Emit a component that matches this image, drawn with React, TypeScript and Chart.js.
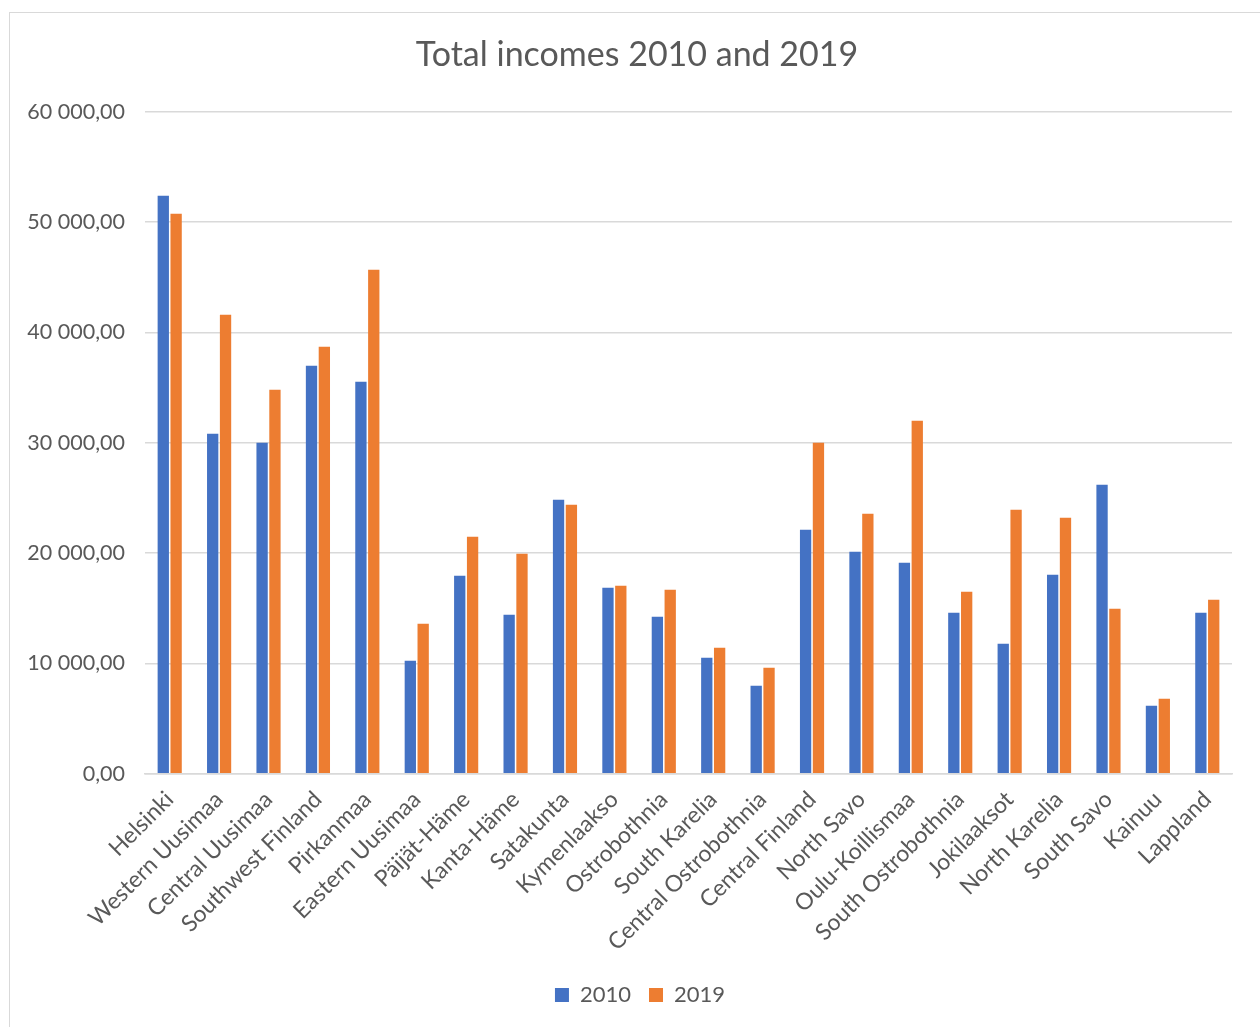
import React, { useEffect, useRef } from "react";
import { Chart, registerables } from "chart.js";

Chart.register(...registerables);

const regions = [
  "Helsinki", "Western Uusimaa", "Central Uusimaa", "Southwest Finland", "Pirkanmaa",
  "Eastern Uusimaa", "Päijät-Häme", "Kanta-Häme", "Satakunta", "Kymenlaakso",
  "Ostrobothnia", "South Karelia", "Central Ostrobothnia", "Central Finland", "North Savo",
  "Oulu-Koillismaa", "South Ostrobothnia", "Jokilaaksot", "North Karelia", "South Savo",
  "Kainuu", "Lappland",
];

const incomes2010 = [
  52390, 30820, 30000, 36980, 35530,
  10250, 17950, 14410, 24830, 16860,
  14230, 10510, 7980, 22120, 20120,
  19120, 14590, 11780, 18040, 26190,
  6160, 14590,
];

const incomes2019 = [
  50760, 41600, 34800, 38700, 45680,
  13600, 21480, 19940, 24380, 17040,
  16680, 11420, 9610, 30000, 23570,
  32000, 16500, 23930, 23200, 14950,
  6800, 15770,
];

const seriesNames = ["2010", "2019"];
const seriesColors = ["#4472C4", "#ED7D31"];
const chartTitle = "Total incomes 2010 and 2019";

const FONT = "Lato, 'Open Sans', sans-serif";
const TEXT = "#595959";
const GRID = "#d9d9d9";

function formatValue(v: number): string {
  const fixed = Math.abs(v).toFixed(2);
  const [intPart, dec] = fixed.split(".");
  const grouped = intPart.replace(/\B(?=(\d{3})+(?!\d))/g, " ");
  return (v < 0 ? "-" : "") + grouped + "," + dec;
}

const shiftBlocks = {
  id: "shiftBlocks",
  afterLayout(chart: any) {
    if (chart.titleBlock) chart.titleBlock.left += 16;
    if (chart.legend) chart.legend.left += 22;
  },
};

export default function App() {
  const canvasRef = useRef<HTMLCanvasElement | null>(null);

  useEffect(() => {
    if (!canvasRef.current) return;
    const chart = new Chart(canvasRef.current, {
      type: "bar",
      data: {
        labels: regions,
        datasets: [
          {
            label: seriesNames[0],
            data: incomes2010,
            backgroundColor: seriesColors[0],
            categoryPercentage: 0.52,
            barPercentage: 0.88,
          },
          {
            label: seriesNames[1],
            data: incomes2019,
            backgroundColor: seriesColors[1],
            categoryPercentage: 0.52,
            barPercentage: 0.88,
          },
        ],
      },
      plugins: [shiftBlocks],
      options: {
        animation: false,
        responsive: false,
        maintainAspectRatio: false,
        layout: { padding: { left: 16, right: 16, top: 10, bottom: 12 } },
        plugins: {
          title: {
            display: true,
            text: chartTitle,
            color: TEXT,
            font: { family: FONT, size: 34, weight: "normal" },
            padding: { top: 12, bottom: 36 },
          },
          legend: {
            position: "bottom",
            labels: {
              color: TEXT,
              font: { family: FONT, size: 22 },
              boxWidth: 14,
              boxHeight: 14,
              padding: 18,
            },
          },
          tooltip: { enabled: false },
        },
        scales: {
          x: {
            grid: { display: false },
            border: { color: GRID, width: 1.5 },
            ticks: {
              color: TEXT,
              font: { family: FONT, size: 23 },
              minRotation: 45,
              maxRotation: 45,
              autoSkip: false,
              padding: 4,
            },
            afterFit: (scale: any) => {
              scale.height = scale.height + 6;
            },
          },
          y: {
            min: 0,
            max: 60000,
            grid: { color: GRID, lineWidth: 1.5, drawTicks: false },
            border: { display: false },
            ticks: {
              stepSize: 10000,
              color: TEXT,
              font: { family: FONT, size: 21.5 },
              padding: 20,
              callback: (v: any) => formatValue(Number(v)),
            },
            afterFit: (scale: any) => {
              scale.width = 119;
            },
          },
        },
      },
    });
    return () => chart.destroy();
  }, []);

  return (
    <div
      style={{
        position: "absolute",
        left: 9,
        top: 12,
        width: 1251,
        height: 1015,
        overflow: "hidden",
        background: "#fff",
        borderTop: "1.5px solid #d9d9d9",
        borderLeft: "1.5px solid #d9d9d9",
        boxSizing: "border-box",
      }}
    >
      <canvas ref={canvasRef} width={1238} height={1015} style={{ display: "block" }} />
    </div>
  );
}
